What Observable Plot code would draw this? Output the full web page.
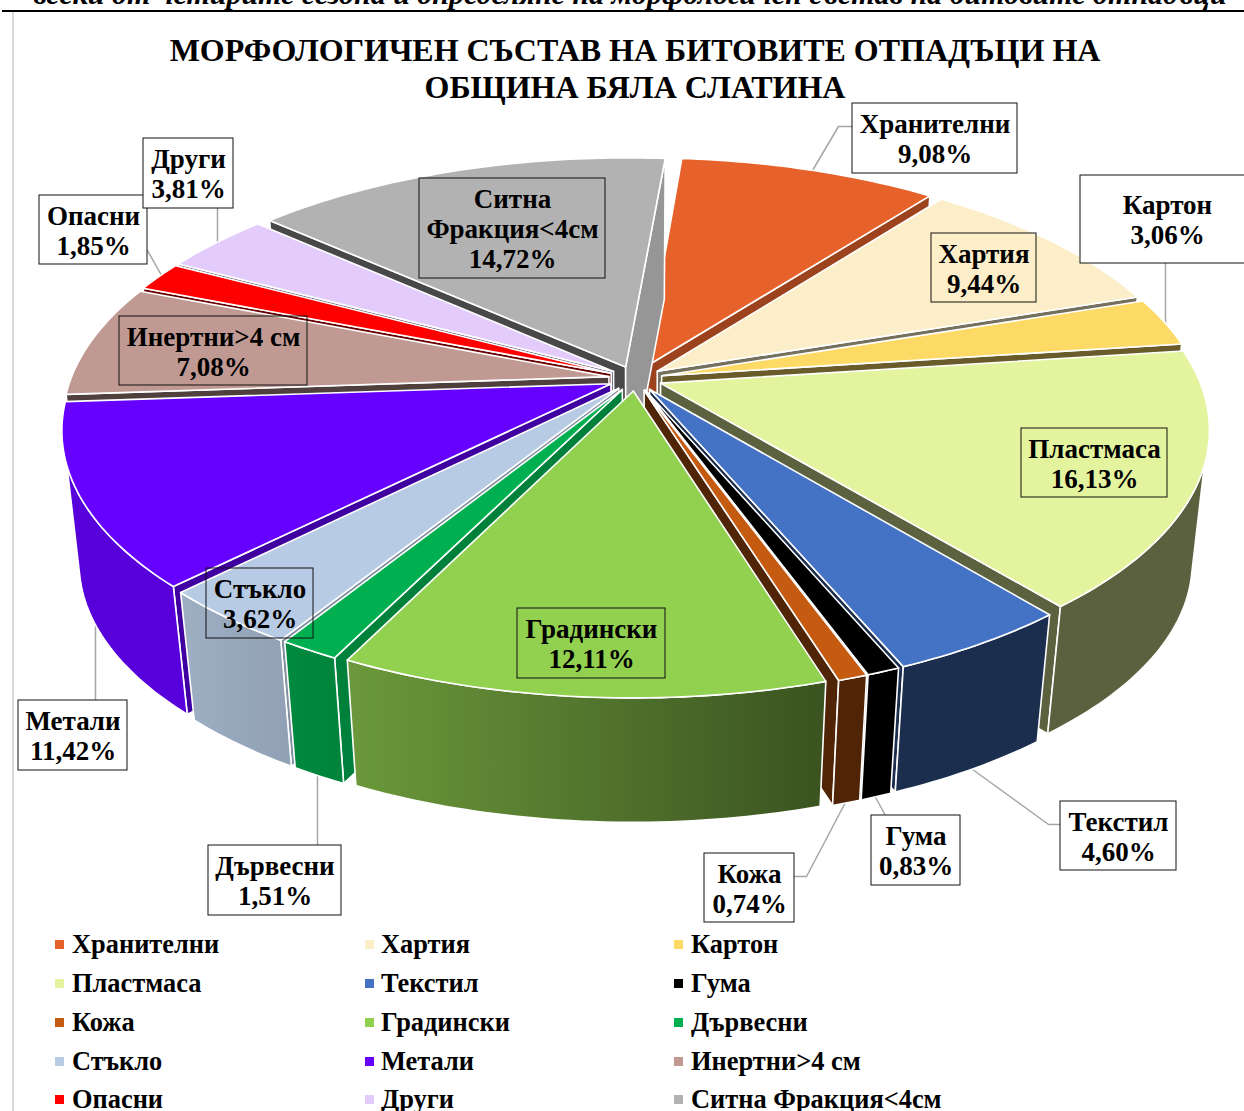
<!DOCTYPE html>
<html lang="bg"><head><meta charset="utf-8">
<script src="https://cdn.jsdelivr.net/npm/d3@7"></script>
<script src="https://cdn.jsdelivr.net/npm/@observablehq/plot@0.6"></script>
<style>
html,body{margin:0;padding:0;background:#fff}
body{position:relative;width:1244px;height:1111px;overflow:hidden;font-family:"Liberation Serif",serif;color:#000}
#clip{position:absolute;left:0;top:-22px;width:1260px;text-align:center;font:italic bold 30px/32px "Liberation Serif",serif;white-space:nowrap}
#cover{position:absolute;left:0;top:12px;width:1244px;height:20px;background:#fff}
#rule{position:absolute;left:2px;top:10px;width:1242px;height:2px;background:#000}
#frame{position:absolute;left:12px;top:12px;width:2px;height:1099px;background:#d9d9d9}
#title{position:absolute;left:0;top:32px;width:1270px;text-align:center;font:bold 32px/37px "Liberation Serif",serif}
#chart{position:absolute;left:0;top:100px}
.lg{position:absolute;font:bold 26.4px/30px "Liberation Serif",serif;white-space:nowrap}
.sw{position:absolute;width:9px;height:9px}
</style></head><body>
<div id="clip">всеки от четирите сезона и определяне на морфологичен състав на битовите отпадъци</div>
<div id="cover"></div><div id="rule"></div><div id="frame"></div>
<div id="title">МОРФОЛОГИЧЕН СЪСТАВ НА БИТОВИТЕ ОТПАДЪЦИ НА<br>ОБЩИНА БЯЛА СЛАТИНА</div>
<div id="chart"></div>
<div id="legend"></div>
<script>
const names = ["Хранителни","Хартия","Картон","Пластмаса","Текстил","Гума","Кожа","Градински","Дървесни","Стъкло","Метали","Инертни>4 см","Опасни","Други","Ситна Фракция<4см"];
const values = [9.08,9.44,3.06,16.13,4.60,0.83,0.74,12.11,1.51,3.62,11.42,7.08,1.85,3.81,14.72];
const colors = ["#E7622A","#FBEEC9","#FDD966","#E4F39E","#4472C4","#000000","#C55A11","#92D050","#00B050","#B8CBE4","#6600FF","#C09A92","#FF0000","#E3CCFB","#B2B2B2"];

// label boxes: name index, box edges, leader path
const labelBoxes = [
 {i:0,b:[852,103,1017,173],fill:"white",lead:[[812,170],[838,126],[852,126]]},
 {i:1,b:[931,233,1036,302]},
 {i:2,b:[1080,175,1250,263],tx:1167,fill:"white",lead:[[1165,263],[1165,325]]},
 {i:3,b:[1021,428,1167,497]},
 {i:4,b:[1060,801,1176,870],fill:"white",lead:[[968,766],[1048,824],[1060,824]]},
 {i:5,b:[871,815,960,885],fill:"white",lead:[[874,795],[885,815]]},
 {i:6,b:[704,853,794,922],fill:"white",lead:[[846,800],[806,876],[794,876]]},
 {i:7,b:[517,608,665,678]},
 {i:8,b:[208,845,341,915],fill:"white",lead:[[317,770],[317,845]]},
 {i:9,b:[206,568,313,638]},
 {i:10,b:[18,700,127,770],fill:"white",lead:[[95,610],[95,700]]},
 {i:11,b:[119,316,307,385]},
 {i:12,b:[39,195,147,264],fill:"white",lead:[[147,250],[165,282]]},
 {i:13,b:[143,138,233,208],fill:"white",lead:[[217,208],[217,245]]},
 {i:14,b:[419,178,605,278],text:"Ситна\nФракция<4см"}
];

// pie geometry
const G = {cx:635, cy:378, R:538, Ry:249, k:0.173, rot:4.8, explode:0.05, depth:134, shrink:0.03};
const rad = d => d*Math.PI/180;
const total = d3.sum(values);
let acc = 0;
const slices = values.map((v,i)=>{
  const a = G.rot + acc/total*360; acc += v;
  const b = G.rot + acc/total*360;
  return {i,a,b,mid:(a+b)/2,color:colors[i]};
});
function P(s,theta,r,z){
  const u = r*Math.sin(rad(theta)) + G.explode*Math.sin(rad(s.mid));
  const v = -r*Math.cos(rad(theta)) - G.explode*Math.cos(rad(s.mid));
  const f = (1-z*G.shrink)/(1-G.k*v);
  return {x:G.cx+G.R*u*f, y:G.cy+G.Ry*v*f+G.depth*z};
}
const arcBetween = (s,a,b,z,rev)=>{
  const n = Math.max(2,Math.ceil(b-a));
  const pts = d3.range(n+1).map(j=>P(s,a+(b-a)*j/n,1,z));
  return rev?pts.reverse():pts;
};
const arc = (s,z)=>arcBetween(s,s.a,s.b,z);
const shade = (c,f)=>{const q=d3.rgb(c);return d3.rgb(q.r*f,q.g*f,q.b*f).formatHex();};
const rimShade = d3.scaleLinear().domain([200,300,820]).range([.86,.77,.4]).clamp(true);
const cutShade = d3.scaleLinear().domain([90,130,170,240]).range([.87,.66,.42,.4]).clamp(true);
const norm = a => ((a%360)+360)%360;

const order = slices.slice().sort((p,q)=>Math.cos(rad(q.mid))-Math.cos(rad(p.mid)));
const stroke = {stroke:"white",strokeWidth:1.6,strokeLinejoin:"round"};
const poly = (pts,fill)=>Plot.line(pts.concat([pts[0]]),{x:"x",y:"y",fill,...stroke});
// the outer wall shows from these angles on the top edge and on the bottom edge
const topRange = s=>[Math.max(s.a,108),Math.min(s.b,252)];
const botRange = s=>[Math.max(s.a,103),Math.min(s.b,257)];

const pieMarks=[];
for(const s of order){
  for(const [t,phi] of [[s.a,s.a-90],[s.b,s.b+90]]){
    if(-Math.cos(rad(phi))>0)
      pieMarks.push(poly([P(s,t,0,0),P(s,t,1,0),P(s,t,1,1),P(s,t,0,1)],shade(s.color,cutShade(norm(phi)))));
  }
  const [ta,tb]=topRange(s), [ba,bb]=botRange(s);
  if(tb>ta) pieMarks.push(poly(arcBetween(s,ta,tb,0).concat(arcBetween(s,ba,bb,1,true)),`url(#rim${s.i})`));
  pieMarks.push(poly([P(s,s.a,0,0)].concat(arc(s,0)),s.color));
}
const defs=()=>{
  const d=d3.create("svg:defs");
  for(const s of slices){
    const [ta,tb]=topRange(s);
    if(!(tb>ta)) continue;
    const xs=arcBetween(s,ta,tb,0).map(p=>p.x);
    const g=d.append("linearGradient").attr("id",`rim${s.i}`);
    g.append("stop").attr("offset",0).attr("stop-color",shade(s.color,rimShade(d3.min(xs))));
    g.append("stop").attr("offset",1).attr("stop-color",shade(s.color,rimShade(d3.max(xs))));
  }
  return d.node();
};
const pct=v=>v.toFixed(2).replace(".",",")+"%";
const labelMarks=[];
for(const l of labelBoxes){
  if(l.lead) labelMarks.unshift(Plot.line(l.lead.map(([x,y])=>({x,y})),{x:"x",y:"y",stroke:"#a6a6a6",strokeWidth:1.5}));
}
const boxMarks=labelBoxes.map(l=>Plot.rect([l],{x1:d=>d.b[0],x2:d=>d.b[2],y1:d=>d.b[1],y2:d=>d.b[3],fill:l.fill||"none",stroke:"#111",strokeWidth:1,inset:0}));
const textMark=Plot.text(labelBoxes,{
  x:d=>d.tx??(d.b[0]+d.b[2])/2,y:d=>(d.b[1]+d.b[3])/2,
  text:d=>(d.text||names[d.i])+"\n"+pct(values[d.i]),
  fontFamily:"Liberation Serif",fontWeight:"bold",fontSize:27,lineHeight:1.11,fill:"#000"});

const plot=Plot.plot({
  width:1244,height:830,margin:0,
  x:{domain:[0,1244],range:[0,1244],axis:null},
  y:{domain:[100,930],range:[0,830],axis:null},
  marks:[defs,...labelMarks,...pieMarks,...boxMarks,textMark]
});
document.getElementById("chart").append(plot);

const cols=[[55,72],[365,381],[674,691]], rows=[944,983,1022,1061,1099];
const lg=document.getElementById("legend");
names.forEach((n,i)=>{
  const c=cols[i%3], y=rows[Math.floor(i/3)];
  const sw=document.createElement("div");sw.className="sw";
  sw.style.cssText=`left:${c[0]}px;top:${y-4}px;background:${colors[i]}`;
  const t=document.createElement("div");t.className="lg";t.textContent=n;
  t.style.cssText=`left:${c[1]}px;top:${y-15}px`;
  lg.append(sw,t);
});
</script></body></html>
